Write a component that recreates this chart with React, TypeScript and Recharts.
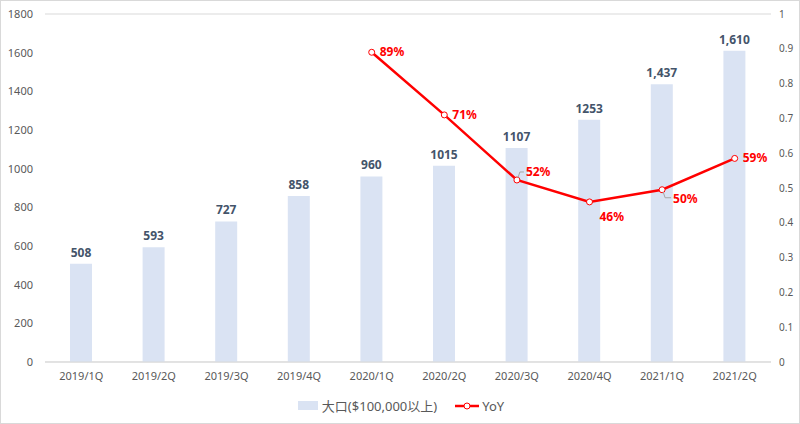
import React from 'react';
import { ComposedChart, Bar, Line, XAxis, YAxis, CartesianGrid, LabelList } from 'recharts';

const quarters = ['2019/1Q', '2019/2Q', '2019/3Q', '2019/4Q', '2020/1Q', '2020/2Q', '2020/3Q', '2020/4Q', '2021/1Q', '2021/2Q'];
const accounts = [508, 593, 727, 858, 960, 1015, 1107, 1253, 1437, 1610];
const accountLabels = ['508', '593', '727', '858', '960', '1015', '1107', '1253', '1,437', '1,610'];
const yoy = [null, null, null, null, 0.89, 0.71, 0.523, 0.46, 0.495, 0.585];
const yoyLabels = ['', '', '', '', '89%', '71%', '52%', '46%', '50%', '59%'];
const leftTicks = [0, 200, 400, 600, 800, 1000, 1200, 1400, 1600, 1800];
const rightTicks = [0, 0.1, 0.2, 0.3, 0.4, 0.5, 0.6, 0.7, 0.8, 0.9, 1];

const data = quarters.map((q, i) => ({
    name: q,
    big: accounts[i],
    bigLabel: accountLabels[i],
    yoy: yoy[i],
    yoyLabel: yoyLabels[i],
}));

const FONT = '"Noto Sans", "Noto Sans CJK JP", sans-serif';
const BAR = '#DAE3F3';
const RED = '#FF0000';

// label offsets per point (dx, dy) relative to the marker
const yoyOffset: Record<string, [number, number]> = {
    '52%': [9, -8],
    '46%': [10, 15],
    '50%': [11, 9],
};

const YoyLabel = (props: any) => {
    const { x, y, value } = props;
    if (!value) return null;
    const [dx, dy] = yoyOffset[value] || [8, 0];
    let leader = null;
    if (value === '52%') {
        leader = <polyline points={`${x + 1},${y - 2} ${x + 3},${y - 8} ${x + 7},${y - 8}`} fill="none" stroke="#a6a6a6" strokeWidth={1} />;
    } else if (value === '50%') {
        leader = <polyline points={`${x + 1},${y + 2} ${x + 3},${y + 8} ${x + 9},${y + 8}`} fill="none" stroke="#a6a6a6" strokeWidth={1} />;
    }
    return (
        <g>
            {leader}
            <text x={x + dx} y={y + dy} dy={4} fill={RED} fontSize={12} fontWeight="bold" fontFamily={FONT}>
                {value}
            </text>
        </g>
    );
};

const BarLabel = (props: any) => {
    const { x, y, width, index } = props;
    return (
        <text x={x + width / 2} y={y - 7} textAnchor="middle" fill="#44546A" fontSize={12} fontWeight="bold" fontFamily={FONT}>
            {accountLabels[index]}
        </text>
    );
};

const Legend = () => (
    <div style={{ position: 'absolute', top: 395, left: 0, width: 800, display: 'flex', justifyContent: 'center', alignItems: 'center', fontFamily: FONT, fontSize: 13, color: '#595959' }}>
        <span style={{ display: 'inline-block', width: 20, height: 9, background: BAR, marginRight: 4 }} />
        <span>大口($100,000以上)</span>
        <svg width={24} height={10} style={{ marginLeft: 18, marginRight: 3 }}>
            <line x1={0} y1={5} x2={24} y2={5} stroke={RED} strokeWidth={2.5} />
            <circle cx={12} cy={5} r={3} fill="#fff" stroke={RED} strokeWidth={1} />
        </svg>
        <span>YoY</span>
    </div>
);

export default function App() {
    return (
        <div style={{ position: 'absolute', top: 0, left: 0, width: 800, height: 424, background: '#fff', boxSizing: 'border-box', border: '1px solid #d9d9d9' }}>
            <ComposedChart width={798} height={422} data={data} margin={{ top: 13, right: 0, bottom: 41, left: 0 }}>
                <CartesianGrid stroke="#d9d9d9" vertical={false} />
                <XAxis
                    dataKey="name"
                    tick={{ fill: '#595959', fontSize: 11, fontFamily: FONT }}
                    tickLine={false}
                    axisLine={{ stroke: '#d9d9d9' }}
                    height={20}
                    tickMargin={4}
                />
                <YAxis
                    yAxisId="left"
                    domain={[0, 1800]}
                    ticks={leftTicks}
                    width={44}
                    tick={{ fill: '#595959', fontSize: 11, fontFamily: FONT }}
                    tickLine={false}
                    axisLine={false}
                    tickMargin={6}
                />
                <YAxis
                    yAxisId="right"
                    orientation="right"
                    domain={[0, 1]}
                    ticks={rightTicks}
                    width={28}
                    tick={{ fill: '#595959', fontSize: 10, fontFamily: FONT }}
                    tickLine={false}
                    axisLine={false}
                    tickMargin={2}
                />
                <Bar yAxisId="left" dataKey="big" fill={BAR} barSize={22} isAnimationActive={false}>
                    <LabelList dataKey="bigLabel" content={BarLabel} />
                </Bar>
                <Line
                    yAxisId="right"
                    dataKey="yoy"
                    stroke={RED}
                    strokeWidth={2.5}
                    dot={{ r: 3, fill: '#fff', stroke: RED, strokeWidth: 1 }}
                    isAnimationActive={false}
                    connectNulls={false}
                >
                    <LabelList dataKey="yoyLabel" content={YoyLabel} />
                </Line>
            </ComposedChart>
            <Legend />
        </div>
    );
}
